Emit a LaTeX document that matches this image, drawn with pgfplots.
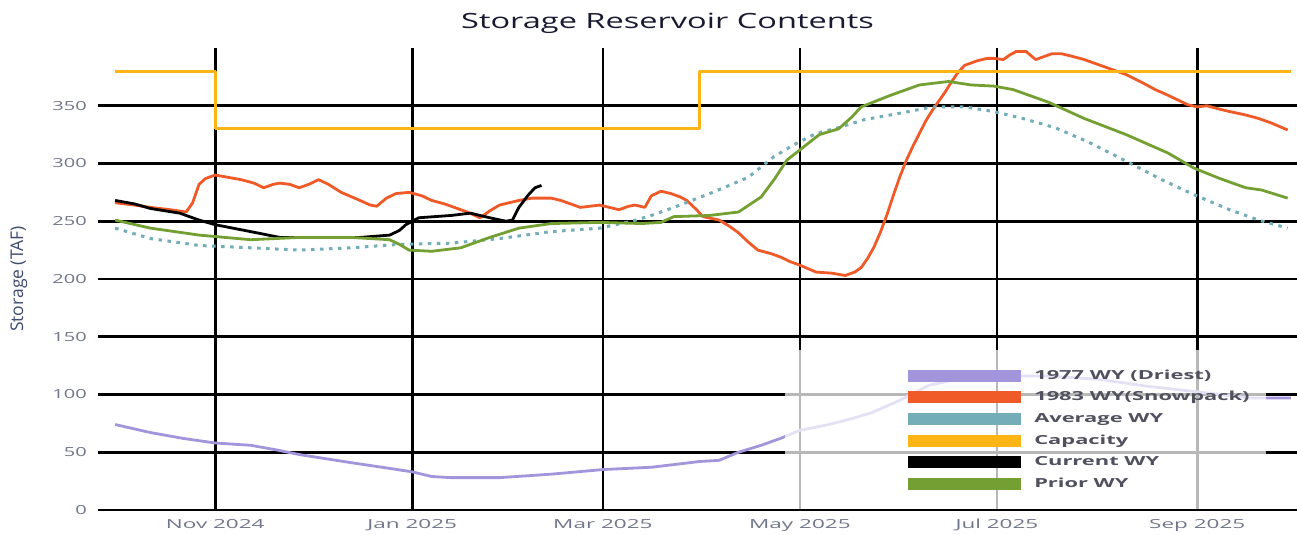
\documentclass[border=0pt]{standalone}
\usepackage{fontspec}
\setmainfont{Open Sans}
\newfontfamily\tickfont[FakeStretch=1.6]{Open Sans}
\newfontfamily\xtickfont[FakeStretch=1.8]{Open Sans}
\newfontfamily\titlefont[FakeStretch=1.55]{Open Sans}
\newfontfamily\legfont[FakeStretch=1.75]{Open Sans}
\usepackage{pgfplots}
\pgfplotsset{compat=1.18}
\definecolor{cpurple}{RGB}{163,149,219}
\definecolor{cred}{RGB}{240,90,40}
\definecolor{cteal}{RGB}{114,173,184}
\definecolor{ccap}{RGB}{253,181,21}
\definecolor{cgreen}{RGB}{116,160,51}
\definecolor{ctick}{RGB}{112,118,138}
\definecolor{cylab}{RGB}{62,76,110}
\definecolor{ctitle}{RGB}{25,25,50}
\definecolor{cleg}{RGB}{80,80,95}
\begin{document}
\begin{tikzpicture}
\begin{axis}[name=ax, scale only axis, width=1199pt, height=462pt,
  xmin=-5.3, xmax=365.9, ymin=0, ymax=400,
  xtick={31,92,151,212,273,335},
  xticklabels={Nov 2024,Jan 2025,Mar 2025,May 2025,Jul 2025,Sep 2025},
  ytick={0,50,...,350},
  grid=major, major grid style={black, line width=2.6pt},
  axis line style={draw=none}, major tick length=0pt,
  tick label style={text=ctick, inner sep=0pt},
  yticklabel style={font=\tickfont\fontsize{12.5}{14}\selectfont, anchor=east, xshift=-11pt},
  xticklabel style={font=\xtickfont\fontsize{12.5}{14}\selectfont, anchor=base, yshift=-19pt},
  /pgf/number format/assume math mode=true,
  title={Storage Reservoir Contents},
  title style={at={(0.475,1)}, anchor=base, yshift=13pt, font=\titlefont\fontsize{21}{24}\selectfont, text=ctitle, inner sep=0pt},
  ylabel={Storage (TAF)},
  ylabel style={at={(axis description cs:-0.066,0.5)}, anchor=center, font=\fontsize{17.5}{19}\selectfont, text=cylab},
  legend cell align=left,
  legend style={at={(0.974,0.346)}, anchor=north east, fill=white, fill opacity=0.72, draw opacity=0, text opacity=1,
     inner xsep=16pt, inner ysep=19pt, row sep=8.6pt, column sep=13pt,
     font=\legfont\bfseries\fontsize{12.5}{14}\selectfont, text=cleg,
     nodes={inner sep=0pt, text height=10pt, text depth=3pt}},
  legend image code/.code={\path (-106pt,0pt); \fill[#1, draw=none, fill opacity=1, opacity=1] (0pt,-6pt) rectangle (113pt,6pt);},
  line join=round,
]
\addplot[color=cpurple, line width=2.8pt] coordinates {(0,74)(11,67)(21,62)(31,58)(42,56)(50,52)(57,48)(73,41)(85,36)(92,33)(98,29)(104,28)(119,28)(135,31)(151,35)(166,37)(181,42)(187,43)(193,50)(200,56)(206,62)(212,69)(221,74)(228,79)(234,84)(243,95)(252,108)(262,114)(274,116)(289,116)(305,113)(320,107)(336,102)(351,97)(364,97)};
\addlegendentry{1977 WY (Driest)}
\addplot[color=cred, line width=2.8pt] coordinates {(0,266)(6,264)(11,262)(17,260)(22,258)(24,266)(26,282)(28,287)(31,290)(35,288)(39,286)(43,283)(46,279)(49,282)(51,283)(54,282)(57,279)(60,282)(63,286)(66,282)(70,275)(75,269)(79,264)(81,263)(84,270)(87,274)(91,275)(95,272)(98,268)(102,265)(105,262)(109,258)(113,253)(116,259)(119,264)(122,266)(125,268)(129,270)(132,270)(135,270)(138,268)(141,265)(144,262)(147,263)(150,264)(153,262)(156,260)(159,263)(161,264)(164,262)(166,272)(169,276)(172,274)(175,271)(177,268)(180,260)(182,254)(187,251)(190,246)(193,240)(196,232)(199,225)(203,222)(206,219)(209,215)(212,212)(217,206)(222,205)(226,203)(229,206)(231,210)(233,218)(235,228)(237,241)(239,256)(241,273)(243,289)(245,303)(247,315)(249,326)(251,337)(253,346)(255,354)(257,362)(259,371)(261,379)(263,385)(265,387)(267,389)(270,391)(272,391)(275,390)(277,394)(279,397)(282,397)(285,390)(287,392)(290,395)(293,395)(296,393)(300,390)(303,387)(306,384)(310,380)(313,377)(318,370)(322,364)(326,359)(329,355)(332,351)(335,349)(338,350)(342,347)(345,345)(350,342)(354,339)(358,335)(363,329)};
\addlegendentry{1983 WY(Snowpack)}
\addplot[color=cteal, line width=3pt, dash pattern=on 3.5pt off 5.5pt] coordinates {(0,244)(11,235)(26,229)(42,227)(57,225)(73,227)(88,230)(104,231)(119,235)(135,241)(150,244)(160,250)(166,255)(173,262)(185,275)(196,288)(204,306)(210,316)(217,326)(224,331)(232,338)(242,343)(253,349)(263,349)(272,345)(281,339)(291,331)(301,319)(313,302)(324,286)(334,273)(345,260)(354,251)(363,244)};
\addlegendentry{Average WY}
\addplot[color=ccap, line width=3pt] coordinates {(0,380)(31,380)(31,330)(181,330)(181,380)(364,380)};
\addlegendentry{Capacity}
\addplot[color=black, line width=2.8pt] coordinates {(0,268)(6,265)(11,261)(20,257)(26,251)(31,247)(42,241)(51,236)(63,236)(76,236)(85,238)(88,242)(90,247)(94,253)(104,255)(110,257)(116,253)(121,250)(123,251)(125,262)(128,273)(130,279)(132,281)};
\addlegendentry{Current WY}
\addplot[color=cgreen, line width=2.8pt] coordinates {(0,251)(11,244)(26,238)(42,234)(57,236)(73,236)(85,234)(88,230)(91,225)(98,224)(107,227)(116,236)(125,244)(135,248)(150,249)(163,248)(169,249)(173,254)(184,255)(193,258)(200,271)(204,286)(208,303)(213,314)(218,325)(224,330)(228,340)(231,349)(240,359)(249,368)(258,371)(265,368)(272,367)(278,364)(289,353)(300,339)(313,325)(326,309)(334,296)(342,287)(350,279)(355,277)(363,270)};
\addlegendentry{Prior WY}
\end{axis}
\pgfresetboundingbox
\path ([xshift=-98pt,yshift=-25pt]ax.south west) rectangle ([yshift=48pt]ax.north east);
\end{tikzpicture}
\end{document}
